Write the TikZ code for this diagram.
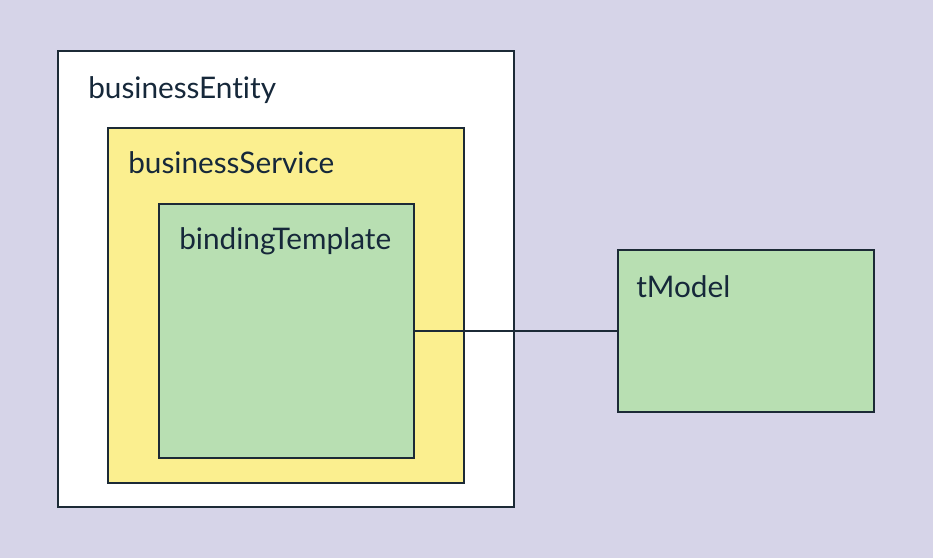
\documentclass[tikz,border=0pt]{standalone}
\usepackage{fontspec}
\setmainfont{Lato}[Ligatures=NoCommon]
\definecolor{bgc}{HTML}{D6D4E8}
\definecolor{edgec}{HTML}{1C2A36}
\definecolor{yel}{HTML}{FBEF8F}
\definecolor{grn}{HTML}{B8DFB2}
\definecolor{txt}{HTML}{16283A}
\begin{document}
\begin{tikzpicture}[x=0.75pt,y=-0.75pt,
  box/.style={draw=edgec,line width=1.6pt,rectangle,anchor=north west,inner sep=0pt},
  lbl/.style={anchor=base west,inner sep=0pt,text=txt,font=\fontsize{22.3}{26}\selectfont}]
\fill[bgc] (0,0) rectangle (933,558);
\useasboundingbox (0,0) rectangle (933,558);
\node[box,fill=white,minimum width=456*0.75pt,minimum height=456*0.75pt] (be) at (57,50) {};
\node[box,fill=yel,minimum width=356*0.75pt,minimum height=355*0.75pt] (bs) at (107,127) {};
\node[box,fill=grn,minimum width=255*0.75pt,minimum height=254*0.75pt] (bt) at (158,203) {};
\node[box,fill=grn,minimum width=256*0.75pt,minimum height=162*0.75pt] (tm) at (617,249) {};
\draw[edgec,line width=1.6pt] (bt.east) -- (bt.east -| tm.west);
\node[lbl] (lbe) at (88,98) {businessEntity};
\node[lbl] (lbs) at (128,173) {businessService};
\node[lbl] (lbt) at (179,249) {bindingTemplate};
\node[lbl] (ltm) at (636,297) {tModel};
\end{tikzpicture}
\end{document}
